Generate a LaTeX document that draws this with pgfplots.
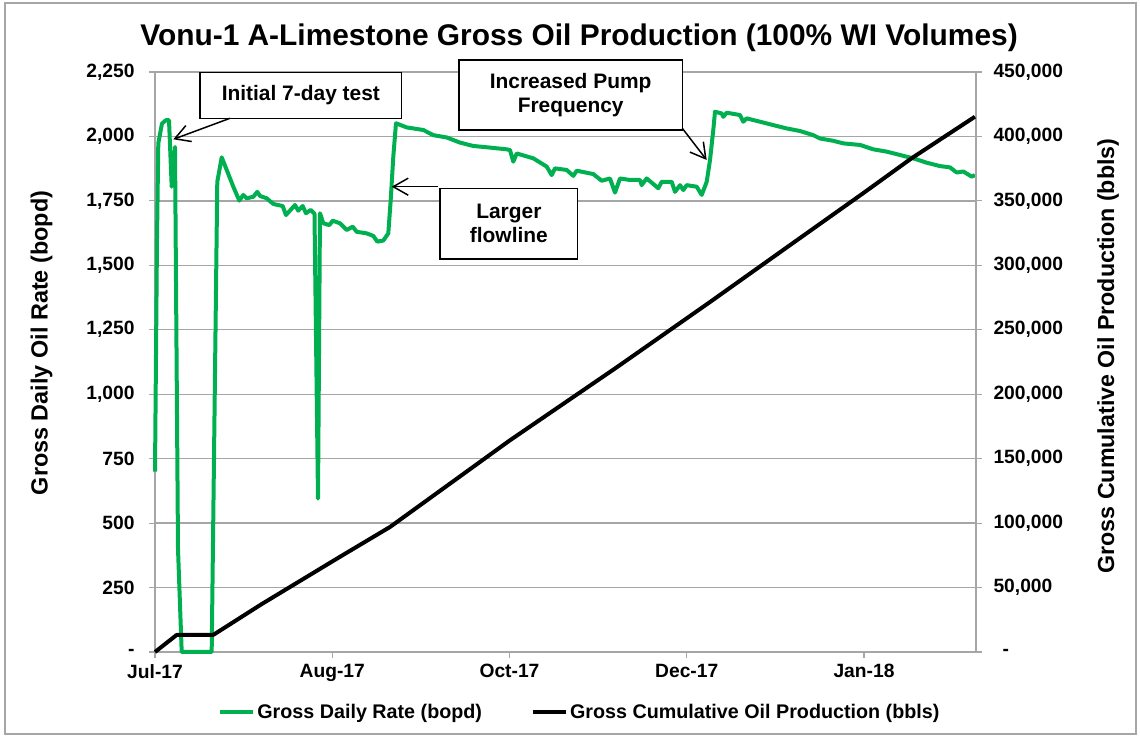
\documentclass[border=0pt]{standalone}
\usepackage{pgfplots}
\pgfplotsset{compat=1.18}
\usepackage{pgfplotstable}
\usepackage{fontspec}
\setmainfont{Liberation Sans}
\usetikzlibrary{arrows.meta}
\definecolor{xlgreen}{RGB}{0,176,80}
\definecolor{gridgray}{RGB}{166,166,166}

\pgfplotstableread{
day rate
0.00 700
0.56 1600
0.93 1973
1.97 2050
3.10 2063
3.95 2063
4.71 1805
5.64 1959
6.49 400
7.53 0
15.99 0
17.57 1824
18.82 1919
22.09 1805
23.78 1751
24.91 1773
25.87 1760
27.73 1766
28.86 1785
29.62 1769
31.51 1760
33.37 1738
36.02 1730
36.95 1695
39.49 1734
40.42 1712
41.66 1730
42.60 1702
43.92 1715
44.99 1700
45.98 595
46.54 1702
47.48 1663
49.17 1656
50.13 1673
52.19 1663
54.08 1637
55.77 1650
56.90 1630
59.72 1624
61.58 1614
62.71 1592
64.40 1596
65.81 1624
66.49 1753
67.22 1921
67.98 2051
71.00 2035
75.68 2025
78.50 2005
82.29 1996
86.04 1976
89.79 1963
93.57 1958
99.21 1950
100.14 1947
101.07 1902
102.03 1934
106.71 1915
110.49 1883
111.90 1850
112.83 1876
116.13 1870
118.00 1847
118.96 1867
123.64 1854
126.01 1828
128.35 1837
129.76 1782
131.17 1837
133.99 1831
136.81 1831
137.29 1811
138.70 1837
141.97 1799
142.93 1824
145.75 1824
146.69 1785
148.10 1811
149.03 1792
149.98 1811
152.81 1805
154.22 1773
155.63 1824
156.56 1908
157.49 2025
157.97 2096
159.86 2089
160.31 2076
161.27 2092
165.02 2083
165.95 2057
166.91 2070
170.66 2057
174.42 2044
178.20 2031
181.95 2021
185.70 2005
187.59 1992
191.34 1983
194.16 1973
198.87 1967
202.62 1950
206.40 1941
210.15 1928
213.91 1915
217.69 1898
221.44 1885
224.26 1880
226.15 1860
228.01 1864
230.38 1844
231.31 1850
}\ratetable

\pgfplotstableread{
day cum
0 0
6.1 13200
16.4 13200
30 37000
52.2 73900
66.3 97000
100 164000
130 220400
156.6 271600
177.2 311900
200 356400
213.4 383000
231.3 415300
}\cumtable

\newcommand{\tickfont}{\fontsize{19.3}{23}\selectfont\bfseries}

\begin{document}
\begin{tikzpicture}[x=1bp,y=1bp]
\useasboundingbox (0,0) rectangle (1140,737);
\draw[gridgray, line width=1.5bp] (5,3) rectangle (1136,734);

\begin{axis}[
  at={(155bp,85bp)}, anchor=south west,
  scale only axis, width=821bp, height=580bp,
  xmin=0, xmax=231.6, ymin=0, ymax=2250,
  clip=false,
  scaled x ticks=false, scaled y ticks=false,
  xtick={0,50,100,150,200},
  xticklabels={Jul-17,Aug-17,Oct-17,Dec-17,Jan-18},
  ytick={0,250,...,2250},
  yticklabels={{-\hspace{10bp}},250,500,750,{1,000},{1,250},{1,500},{1,750},{2,000},{2,250}},
  xtick pos=bottom, ytick pos=left,
  tick align=outside, major tick length=6bp,
  tick style={gridgray, line width=1.2bp},
  axis line style={gridgray, line width=1.2bp},
  ymajorgrids, grid style={gridgray, line width=1.3bp},
  ticklabel style={font=\tickfont},
  yticklabel style={xshift=-11bp},
  xticklabel style={yshift=-3bp},
]
\addplot[xlgreen, line width=4bp, line join=round] table[x=day, y=rate] {\ratetable};
\end{axis}

\begin{axis}[
  at={(155bp,85bp)}, anchor=south west,
  scale only axis, width=821bp, height=580bp,
  xmin=0, xmax=231.6, ymin=0, ymax=450000,
  clip=false,
  scaled x ticks=false, scaled y ticks=false,
  axis x line=none, axis y line*=right,
  ytick={0,50000,...,450000},
  yticklabels={{\hspace{9bp}-},{50,000},{100,000},{150,000},{200,000},{250,000},{300,000},{350,000},{400,000},{450,000}},
  tick align=outside, major tick length=6bp,
  tick style={gridgray, line width=1.2bp},
  axis line style={gridgray, line width=1.2bp},
  ticklabel style={font=\tickfont},
  yticklabel style={xshift=8bp},
  legend columns=2,
  legend cell align=left,
  legend image code/.code={\draw[#1] (0bp,0bp) -- (33bp,0bp);},
  legend style={draw=none, fill=none, at={(0.5175,-0.1034)}, anchor=center,
    font=\fontsize{19.8}{23}\selectfont\bfseries, inner sep=0pt,
    /tikz/every even column/.append style={column sep=46bp},
    nodes={inner sep=2.5bp}},
]
\addlegendimage{xlgreen, line width=4bp}
\addlegendentry{Gross Daily Rate (bopd)}
\addplot[black, line width=4bp, line join=round] table[x=day, y=cum] {\cumtable};
\addlegendentry{Gross Cumulative Oil Production (bbls)}
\end{axis}

% title and axis titles
\node[anchor=base] at (579,691) {\fontsize{30}{34}\selectfont\bfseries Vonu-1 A-Limestone Gross Oil Production (100\% WI Volumes)};
\node[rotate=90] at (41.5,394) {\fontsize{23.5}{28}\selectfont\bfseries Gross Daily Oil Rate (bopd)};
\node[rotate=90] at (1108,381) {\fontsize{23.3}{28}\selectfont\bfseries Gross Cumulative Oil Production (bbls)};

% annotations
\begin{scope}[line width=1.5bp, every node/.style={align=center, font=\fontsize{21}{24}\selectfont\bfseries}]
\draw[fill=white] (200,618.7) rectangle (401.7,664.3);
\node at (300.85,641.5) {Initial 7-day test};
\draw[-{Straight Barb[length=15bp,width=17bp]}] (230,618.7) -- (173.3,597.7);

\draw[fill=white] (459,607) rectangle (682.3,677);
\node at (570.65,642) {Increased Pump\\Frequency};
\draw[-{Straight Barb[length=15bp,width=17bp]}] (682.3,608.7) -- (706.7,577);

\draw[fill=white] (440,478) rectangle (577.7,548.7);
\node at (508.85,513.35) {Larger\\flowline};
\draw[-{Straight Barb[length=15bp,width=17bp]}] (438,550.3) -- (391.7,550.3);
\end{scope}
\end{tikzpicture}
\end{document}
